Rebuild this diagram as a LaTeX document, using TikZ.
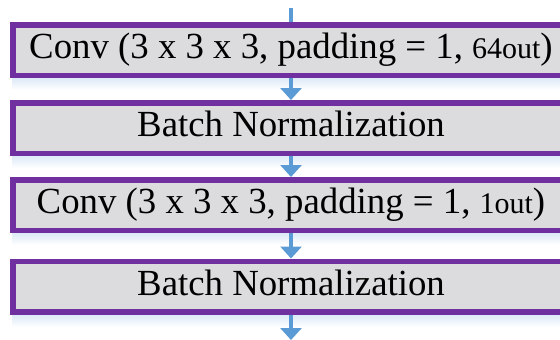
\documentclass[tikz,border=0pt]{standalone}
\usepackage{fontspec}
\setmainfont{Liberation Serif}
\usetikzlibrary{arrows.meta}
\definecolor{boxpurple}{HTML}{7030A0}
\definecolor{boxfill}{HTML}{DCDCDF}
\definecolor{arrowblue}{HTML}{5B9BD5}
\definecolor{glow}{HTML}{DDEAF7}
\tikzset{
  layerbox/.style={draw=boxpurple, fill=boxfill, line width=5.5pt,
    minimum width=556.5pt, minimum height=50.5pt, inner sep=0pt,
    font=\fontsize{36.8}{40}\selectfont, text height=24.5pt, text depth=7pt},
  flow/.style={draw=arrowblue, line width=4.5pt,
    -{Triangle[width=21pt,length=12pt]}},
  flowplain/.style={draw=arrowblue, line width=4.5pt}
}
\newcommand{\smallnum}[1]{{\fontsize{30}{34}\selectfont #1}}
\begin{document}
\begin{tikzpicture}[x=1pt,y=-1pt]
\useasboundingbox (0,0) rectangle (560,340);
\clip (0,0) rectangle (560,340);
\fill[white] (0,0) rectangle (560,340);
% soft glow below boxes
\foreach \yb in {78,156,233,315}{
  \shade[top color=glow, bottom color=white] (12,\yb) rectangle (570,\yb+12);
}
\node[layerbox] (c1) at (291,50) {Conv (3 x 3 x 3, padding = 1, \smallnum{64out})};
\node[layerbox] (b1) at (291,128) {Batch Normalization};
\node[layerbox] (c2) at (291,205) {Conv (3 x 3 x 3, padding = 1, \smallnum{1out})};
\node[layerbox] (b2) at (291,286.5) {Batch Normalization};
\coordinate (in) at (291,8);
\coordinate (out) at (291,340);
\draw[flowplain] (in) -- (c1.north);
\draw[flow] (c1.south) -- (b1.north);
\draw[flow] (b1.south) -- (c2.north);
\draw[flow] (c2.south) -- (b2.north);
\draw[flow] (b2.south) -- (out);
\end{tikzpicture}
\end{document}
